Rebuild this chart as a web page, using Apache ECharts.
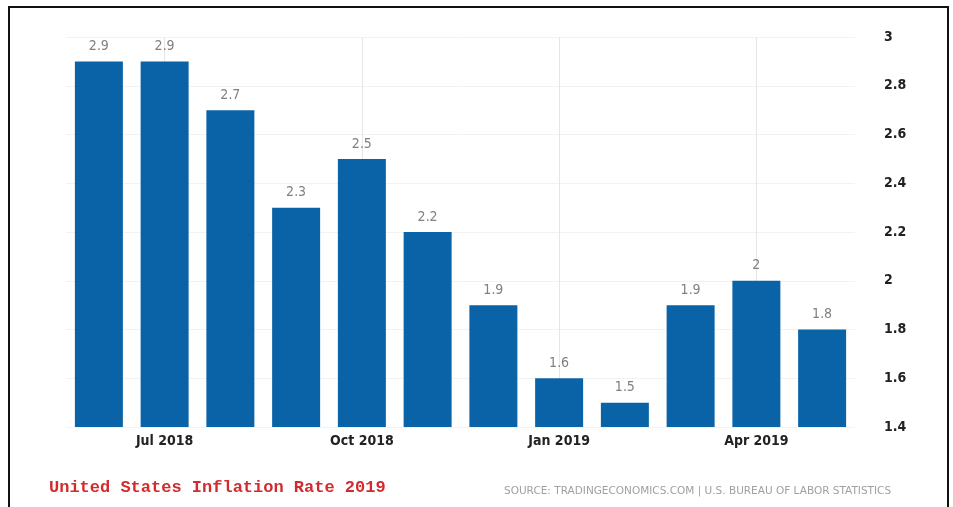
<!DOCTYPE html>
<html>
<head>
<meta charset="utf-8">
<script src="https://cdn.jsdelivr.net/npm/echarts@6/dist/echarts.min.js"></script>
<style>
  html, body { margin: 0; padding: 0; background: #fff; }
  #box { width: 953px; height: 507px; position: relative; }
  #frame { position: absolute; left: 8px; top: 6px; width: 941px; height: 510px; border: 2px solid #111; box-sizing: border-box; pointer-events: none; }
</style>
</head>
<body>
<div id="box"></div>
<div id="frame"></div>
<script>
// 数据
var months = ['Jun 2018', 'Jul 2018', 'Aug 2018', 'Sep 2018', 'Oct 2018', 'Nov 2018',
              'Dec 2018', 'Jan 2019', 'Feb 2019', 'Mar 2019', 'Apr 2019', 'May 2019'];
var rates = [2.9, 2.9, 2.7, 2.3, 2.5, 2.2, 1.9, 1.6, 1.5, 1.9, 2.0, 1.8];
var tickMonths = ['Jul 2018', 'Oct 2018', 'Jan 2019', 'Apr 2019'];

var myChart = echarts.init(document.getElementById('box'));
var option = {
    animation: false,
    backgroundColor: '#fff',
    grid: { left: 66, right: 98, top: 37, bottom: 80 },
    title: [
        {
            text: 'United States Inflation Rate 2019',
            left: 44,
            top: 474,
            textStyle: { color: '#d42a2e', fontFamily: 'Liberation Mono', fontWeight: 'bold', fontSize: 17 }
        },
        {
            text: 'SOURCE: TRADINGECONOMICS.COM | U.S. BUREAU OF LABOR STATISTICS',
            left: 499,
            top: 481,
            textStyle: { color: '#a0a0a0', fontFamily: 'DejaVu Sans', fontWeight: 'normal', fontSize: 10.5 }
        }
    ],
    xAxis: {
        type: 'category',
        data: months,
        axisLine: { show: false },
        axisTick: { show: false },
        axisLabel: {
            interval: function (idx) { return idx % 3 === 1; },
            margin: 7,
            color: '#222',
            fontFamily: 'DejaVu Sans Condensed',
            fontWeight: 'bold',
            fontSize: 14
        },
        splitLine: { show: false }
    },
    yAxis: {
        type: 'value',
        position: 'right',
        min: 1.4,
        max: 3,
        interval: 0.2,
        axisLine: { show: false },
        axisTick: { show: false },
        axisLabel: {
            margin: 29,
            color: '#222',
            fontFamily: 'DejaVu Sans Condensed',
            fontWeight: 'bold',
            fontSize: 14
        },
        splitLine: { lineStyle: { color: '#f2f2f2', width: 1 } }
    },
    series: [
        {
            type: 'line',
            data: [],
            z: 1,
            silent: true,
            markLine: {
                silent: true,
                z: 1,
                symbol: 'none',
                label: { show: false },
                lineStyle: { color: '#e6e6e6', type: 'solid', width: 1 },
                data: tickMonths.map(function (m) { return { xAxis: m }; })
            }
        },
        {
            type: 'bar',
            data: rates,
            z: 3,
            barWidth: '73%',
            itemStyle: { color: '#0b63a7' },
            label: {
                show: true,
                position: 'top',
                distance: 8,
                color: '#808080',
                fontFamily: 'DejaVu Sans Condensed',
                fontSize: 14
            }
        }
    ]
};
option && myChart.setOption(option);
</script>
</body>
</html>
